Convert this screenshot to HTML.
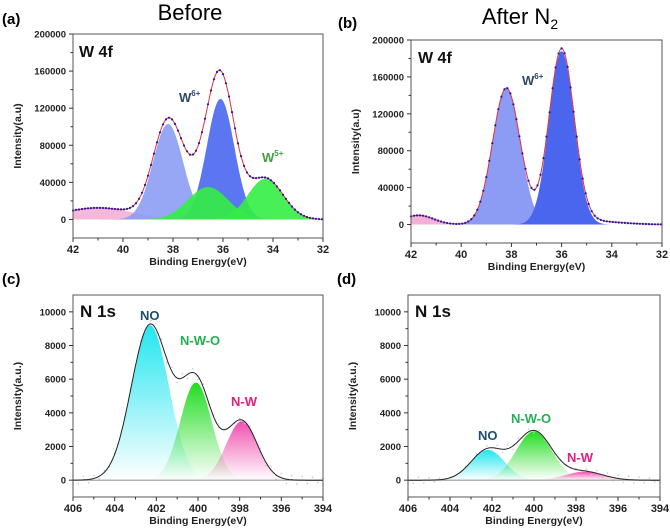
<!DOCTYPE html>
<html><head><meta charset="utf-8"><style>
html,body{margin:0;padding:0;background:#fff;width:670px;height:532px;overflow:hidden}
svg{display:block;font-family:"Liberation Sans",Arial,sans-serif}
</style></head><body>
<svg id="fig" width="670" height="532" viewBox="0 0 670 532">
<defs>
<linearGradient id="gCyan" x1="0" y1="0" x2="0" y2="1"><stop offset="0" stop-color="#22e6f0"/><stop offset="1" stop-color="#22e6f0" stop-opacity="0.0"/></linearGradient>
<linearGradient id="gGreen" x1="0" y1="0" x2="0" y2="1"><stop offset="0" stop-color="#22dd22"/><stop offset="1" stop-color="#22dd22" stop-opacity="0.0"/></linearGradient>
<linearGradient id="gPink" x1="0" y1="0" x2="0" y2="1"><stop offset="0" stop-color="#f050b0"/><stop offset="1" stop-color="#f050b0" stop-opacity="0.0"/></linearGradient>
</defs>
<text x="190" y="20" font-size="22" text-anchor="middle">Before</text>
<text x="520" y="24" font-size="22" text-anchor="middle">After N<tspan font-size="14" dy="5">2</tspan></text>
<text x="2" y="24" font-size="15" font-weight="bold">(a)</text>
<text x="338" y="28" font-size="15" font-weight="bold">(b)</text>
<text x="2" y="284" font-size="15" font-weight="bold">(c)</text>
<text x="337" y="284" font-size="15" font-weight="bold">(d)</text>
</svg>
<script>
// Panel (a) W 4f before: peak centers (eV), heights, widths (sigma eV)
const aCenters=[41.0,38.2,36.1,36.6,34.3];
const aHeights=[12500,103000,130000,35000,44000];
const aWidths=[1.4,0.6,0.55,0.8,0.7];
// Panel (b) W 4f after N2
const bCenters=[41.7,38.2,36.0,35.0];
const bHeights=[10000,148000,188000,4000];
const bWidths=[0.6,0.55,0.5,1.2];
// Panel (c) N 1s before
const cCenters=[402.3,400.1,397.9];
const cHeights=[9200,5800,3500];
const cWidths=[0.9,0.75,0.75];
// Panel (d) N 1s after
const dCenters=[402.2,400.0,397.6];
const dHeights=[1800,2900,500];
const dWidths=[0.8,0.85,0.9];
const wXTicks=[42,40,38,36,34,32];
const wYTicks=[0,40000,80000,120000,160000,200000];
const nXTicks=[406,404,402,400,398,396,394];
const nYTicks=[0,2000,4000,6000,8000,10000];

const NS='http://www.w3.org/2000/svg';
const svg=document.getElementById('fig');
function mk(tag,attrs,parent){const e=document.createElementNS(NS,tag);for(const k in attrs)e.setAttribute(k,attrs[k]);(parent||svg).appendChild(e);return e;}
function gauss(x,c,h,w){return h*Math.exp(-0.5*((x-c)/w)**2);}

function panel(p){
  const g=mk('g',{});
  
  
  const X=v=>p.L+(p.x0-v)/(p.x0-p.x1)*(p.R-p.L);
  const Y=v=>p.B-(v-p.y0)/(p.y1-p.y0)*(p.B-p.T);
  const N=200;
  const xs=[];for(let i=0;i<=N;i++)xs.push(p.x0+(p.x1-p.x0)*i/N);
  p.centers.forEach((c,i)=>{
    if(!p.fills[i])return;
    let d='M'+X(xs[0])+','+Y(0);
    xs.forEach(x=>{d+=' L'+X(x).toFixed(1)+','+Y(gauss(x,c,p.heights[i],p.widths[i])).toFixed(1);});
    d+=' L'+X(xs[N])+','+Y(0)+'Z';
    const f=mk('path',{d:d,fill:p.fills[i],'fill-opacity':p.op||1,stroke:'none'},g);
    
    
  });
  const env=x=>p.centers.reduce((s,c,i)=>s+gauss(x,c,p.heights[i],p.widths[i]),0);
  if(p.noise){
    for(let x=p.x0;x>=p.x1;x-=0.25){
      const v=env(x)+((Math.sin(x*37.1)*0.5)*p.noise);
      mk('circle',{cx:X(x),cy:Y(v),r:0.8,fill:'#c8c8c8'},g);
    }
    mk('line',{x1:p.L,x2:p.R,y1:Y(0),y2:Y(0),stroke:'#999','stroke-width':1.2},g);
  }
  let d='';xs.forEach((x,i)=>{d+=(i?' L':'M')+X(x).toFixed(1)+','+Y(env(x)).toFixed(1);});
  const e=mk('path',{d:d,fill:'none',stroke:p.envColor,'stroke-width':1},g);
  
  
  if(p.dots){
    for(let x=p.x0;x>=p.x1-0.001;x-=0.12){
      mk('circle',{cx:X(x).toFixed(1),cy:Y(env(x)).toFixed(1),r:1.1,fill:'#2418a8'},g);
    }
  }
  const fr=mk('rect',{x:p.L,y:p.T,width:p.R-p.L,height:p.B-p.T,fill:'none',stroke:'#555','stroke-width':1},g);
  
  
  p.xt.forEach((t,i)=>{
    mk('line',{x1:X(t),x2:X(t),y1:p.B,y2:p.B+4,stroke:'#333'},g);
    if(i<p.xt.length-1){const m=(t+p.xt[i+1])/2;mk('line',{x1:X(m),x2:X(m),y1:p.B,y2:p.B+2.5,stroke:'#333'},g);}
    const tx=mk('text',{x:X(t),y:p.B+15,'font-size':11,'font-weight':'bold','text-anchor':'middle',fill:'#222'},g);
    tx.textContent=t;
    
    
  });
  p.yt.forEach((t,i)=>{
    mk('line',{x1:p.L-4,x2:p.L,y1:Y(t),y2:Y(t),stroke:'#333'},g);
    const m=t+(p.yt[1]-p.yt[0])/2;if(Y(m)>p.T)mk('line',{x1:p.L-2.5,x2:p.L,y1:Y(m),y2:Y(m),stroke:'#333'},g);
    const tx=mk('text',{x:p.L-7,y:Y(t)+3.5,'font-size':9.5,'font-weight':'bold','text-anchor':'end',fill:'#222'},g);
    tx.textContent=t;
    
    
  });
  const xl=mk('text',{x:(p.L+p.R)/2,y:p.B+27,'font-size':10.5,'font-weight':'bold','text-anchor':'middle',fill:'#222'},g);
  xl.textContent='Binding Energy(eV)';
  
  
  const cy=(p.T+p.B)/2;
  const yl=mk('text',{x:p.L-52,y:cy,'font-size':10.5,'font-weight':'bold','text-anchor':'middle',fill:'#222',transform:'rotate(-90 '+(p.L-52)+' '+cy+')'},g);
  yl.textContent=p.ytitle;
  
  
  p.labels.forEach(l=>{
    const t=mk('text',{x:l[1],y:l[2],'font-size':l[4],'font-weight':'bold',fill:l[3]},g);
    t.innerHTML=l[0];
    
    
  });
}
panel({name:'panel-a-w4f-before',L:73,R:323,T:34,B:238,x0:42,x1:32,y0:-20000,y1:200000,centers:aCenters,heights:aHeights,widths:aWidths,
 fills:['#f4b0d6','#8c9cf4','#4a66ee','#33ee44','#33ee44'],op:0.9,envColor:'#e03040',dots:true,xt:wXTicks,yt:wYTicks,ytitle:'Intensity(a.u)',
 labels:[['W 4f',79,57,'#111',16],['W<tspan font-size="8" dy="-6">6+</tspan>',179,102,'#2c4a66',13],['W<tspan font-size="8" dy="-6">5+</tspan>',262,162,'#3fa03f',13]]});
panel({name:'panel-b-w4f-after',L:411,R:662,T:40,B:243,x0:42,x1:32,y0:-20000,y1:200000,centers:bCenters,heights:bHeights,widths:bWidths,
 fills:['#f4b0d6','#8c9cf4','#4a66ee',null],op:1,envColor:'#e03040',dots:true,xt:wXTicks,yt:wYTicks,ytitle:'Intensity(a.u)',
 labels:[['W 4f',418,63,'#111',16],['W<tspan font-size="8" dy="-6">6+</tspan>',522,85,'#2c4a66',13]]});
panel({name:'panel-c-n1s-before',L:73,R:323,T:295,B:497,x0:406,x1:394,y0:-1000,y1:11000,centers:cCenters,heights:cHeights,widths:cWidths,
 fills:['url(#gCyan)','url(#gGreen)','url(#gPink)'],envColor:'#222',noise:500,xt:nXTicks,yt:nYTicks,ytitle:'Intensity(a.u.)',
 labels:[['N 1s',80,317,'#111',17],['NO',140,320,'#1e4f6e',13],['N-W-O',180,345,'#22b050',13],['N-W',231,406,'#e0207a',13]]});
panel({name:'panel-d-n1s-after',L:408,R:660,T:295,B:497,x0:406,x1:394,y0:-1000,y1:11000,centers:dCenters,heights:dHeights,widths:dWidths,
 fills:['url(#gCyan)','url(#gGreen)','url(#gPink)'],envColor:'#222',noise:400,xt:nXTicks,yt:nYTicks,ytitle:'Intensity(a.u.)',
 labels:[['N 1s',415,317,'#111',17],['NO',478,440,'#1e4f6e',13],['N-W-O',511,423,'#22b050',13],['N-W',567,462,'#e0207a',13]]});
</script>
</body></html>
